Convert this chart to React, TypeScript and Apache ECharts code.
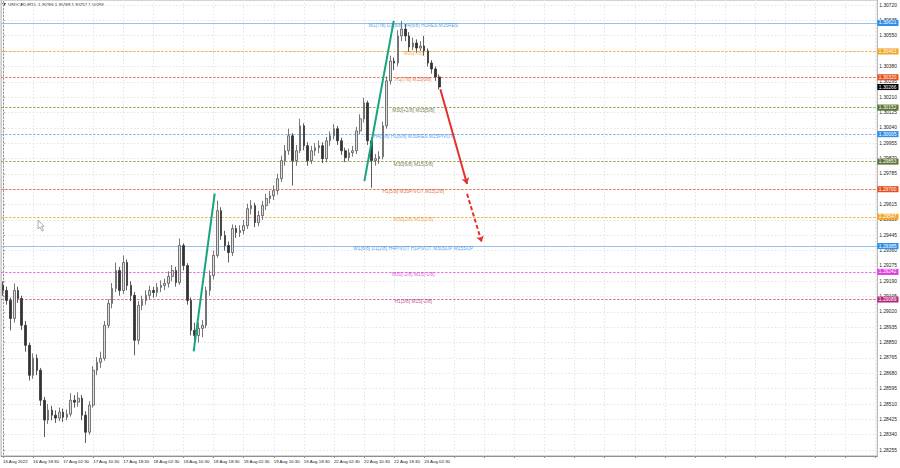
import React, { useEffect, useRef } from 'react';
import * as echarts from 'echarts';

const titleText = 'USDCAD,M15';
const titleValues = [1.30266, 1.30268, 1.30252, 1.30266];

const xTickLabels = [
  '16 Aug 2022', '16 Aug 18:30', '17 Aug 02:30', '17 Aug 10:30', '17 Aug 18:30',
  '18 Aug 02:30', '18 Aug 10:30', '18 Aug 18:30', '19 Aug 02:30', '19 Aug 10:30',
  '19 Aug 18:30', '22 Aug 02:30', '22 Aug 10:30', '22 Aug 18:30', '23 Aug 02:30',
];

const yTicks = [
  1.30720, 1.30635, 1.30550, 1.30465, 1.30380, 1.30295, 1.30210, 1.30125, 1.30040, 1.29955,
  1.29870, 1.29785, 1.29700, 1.29615, 1.29530, 1.29445, 1.29360, 1.29275, 1.29190, 1.29105,
  1.29020, 1.28935, 1.28850, 1.28765, 1.28680, 1.28595, 1.28510, 1.28425, 1.28340, 1.28255,
];

const opens = [
  1.29167, 1.29139, 1.29084, 1.28984, 1.29139, 1.29095, 1.28946, 1.28835, 1.28669, 1.28763,
  1.28697, 1.28531, 1.28421, 1.28476, 1.28448, 1.28432, 1.28465, 1.28437, 1.28454, 1.28531,
  1.28520, 1.28542, 1.28448, 1.28354, 1.28504, 1.28697, 1.28741, 1.28763, 1.28946, 1.29067,
  1.29150, 1.29250, 1.29139, 1.29294, 1.29167, 1.29112, 1.28863, 1.29056, 1.29084, 1.29112,
  1.29139, 1.29128, 1.29156, 1.29167, 1.29178, 1.29217, 1.29250, 1.29183, 1.29388, 1.29277,
  1.29084, 1.28918, 1.28890, 1.28929, 1.28946, 1.29139, 1.29222, 1.29333, 1.29581, 1.29443,
  1.29388, 1.29349, 1.29482, 1.29460, 1.29471, 1.29498, 1.29592, 1.29609, 1.29515, 1.29554,
  1.29609, 1.29648, 1.29664, 1.29692, 1.29758, 1.29858, 1.29913, 1.29996, 1.29858, 1.29913,
  1.30051, 1.29941, 1.29858, 1.29913, 1.29930, 1.29941, 1.29869, 1.29968, 1.29996, 1.30035,
  1.29968, 1.29913, 1.29874, 1.29902, 1.29913, 1.30023, 1.30090, 1.30178, 1.29968, 1.29858,
  1.29869, 1.29880, 1.30051, 1.30300, 1.30410, 1.30399, 1.30549, 1.30587, 1.30549, 1.30488,
  1.30510, 1.30482, 1.30493, 1.30466, 1.30399, 1.30366, 1.30322,
];

const closes = [
  1.29139, 1.29084, 1.28984, 1.29139, 1.29095, 1.28946, 1.28835, 1.28669, 1.28763, 1.28697,
  1.28531, 1.28421, 1.28476, 1.28448, 1.28432, 1.28465, 1.28437, 1.28454, 1.28531, 1.28520,
  1.28542, 1.28448, 1.28354, 1.28504, 1.28697, 1.28741, 1.28763, 1.28946, 1.29067, 1.29150,
  1.29250, 1.29139, 1.29294, 1.29167, 1.29112, 1.28863, 1.29056, 1.29084, 1.29112, 1.29139,
  1.29128, 1.29156, 1.29167, 1.29178, 1.29217, 1.29250, 1.29183, 1.29388, 1.29277, 1.29084,
  1.28918, 1.28890, 1.28929, 1.28946, 1.29139, 1.29222, 1.29333, 1.29581, 1.29443, 1.29388,
  1.29349, 1.29482, 1.29460, 1.29471, 1.29498, 1.29592, 1.29609, 1.29515, 1.29554, 1.29609,
  1.29648, 1.29664, 1.29692, 1.29758, 1.29858, 1.29913, 1.29996, 1.29858, 1.29913, 1.30051,
  1.29941, 1.29858, 1.29913, 1.29930, 1.29941, 1.29869, 1.29968, 1.29996, 1.30035, 1.29968,
  1.29913, 1.29874, 1.29902, 1.29913, 1.30023, 1.30090, 1.30178, 1.29968, 1.29858, 1.29869,
  1.29880, 1.30051, 1.30300, 1.30410, 1.30399, 1.30549, 1.30587, 1.30549, 1.30488, 1.30510,
  1.30482, 1.30493, 1.30466, 1.30399, 1.30366, 1.30322, 1.30266,
];

const lows = [
  1.29110, 1.29060, 1.28918, 1.28960, 1.29070, 1.28920, 1.28800, 1.28640, 1.28650, 1.28670,
  1.28500, 1.28327, 1.28400, 1.28420, 1.28405, 1.28415, 1.28410, 1.28420, 1.28440, 1.28490,
  1.28495, 1.28420, 1.28294, 1.28340, 1.28490, 1.28670, 1.28710, 1.28750, 1.28930, 1.29040,
  1.29130, 1.29110, 1.29120, 1.29140, 1.29080, 1.28780, 1.28840, 1.29030, 1.29060, 1.29090,
  1.29100, 1.29105, 1.29130, 1.29140, 1.29155, 1.29190, 1.29160, 1.29170, 1.29250, 1.29060,
  1.28890, 1.28808, 1.28850, 1.28880, 1.28930, 1.29110, 1.29200, 1.29320, 1.29420, 1.29360,
  1.29294, 1.29330, 1.29430, 1.29435, 1.29450, 1.29480, 1.29560, 1.29490, 1.29495, 1.29530,
  1.29585, 1.29620, 1.29640, 1.29670, 1.29740, 1.29830, 1.29890, 1.29720, 1.29830, 1.29900,
  1.29915, 1.29830, 1.29840, 1.29885, 1.29900, 1.29845, 1.29850, 1.29940, 1.29975, 1.29945,
  1.29890, 1.29850, 1.29855, 1.29880, 1.29895, 1.30005, 1.30070, 1.29945, 1.29708, 1.29830,
  1.29840, 1.29865, 1.30035, 1.30280, 1.30360, 1.30380, 1.30520, 1.30520, 1.30460, 1.30470,
  1.30455, 1.30465, 1.30440, 1.30380, 1.30340, 1.30300, 1.30252,
];

const highs = [
  1.29190, 1.29160, 1.29100, 1.29178, 1.29160, 1.29110, 1.28970, 1.28850, 1.28790, 1.28785,
  1.28710, 1.28550, 1.28510, 1.28500, 1.28475, 1.28490, 1.28485, 1.28480, 1.28570, 1.28560,
  1.28575, 1.28560, 1.28470, 1.28525, 1.28720, 1.28770, 1.28800, 1.28970, 1.29090, 1.29180,
  1.29294, 1.29270, 1.29333, 1.29310, 1.29190, 1.29130, 1.29080, 1.29110, 1.29140, 1.29165,
  1.29160, 1.29180, 1.29195, 1.29205, 1.29245, 1.29280, 1.29270, 1.29427, 1.29400, 1.29290,
  1.29100, 1.28960, 1.28960, 1.28975, 1.29160, 1.29250, 1.29360, 1.29637, 1.29600, 1.29470,
  1.29410, 1.29505, 1.29500, 1.29500, 1.29530, 1.29620, 1.29640, 1.29625, 1.29580, 1.29635,
  1.29675, 1.29690, 1.29720, 1.29785, 1.29885, 1.29945, 1.30035, 1.30010, 1.29945, 1.30090,
  1.30065, 1.29960, 1.29940, 1.29955, 1.29970, 1.29960, 1.29990, 1.30020, 1.30060, 1.30050,
  1.29985, 1.29930, 1.29925, 1.29940, 1.30045, 1.30115, 1.30206, 1.30190, 1.29985, 1.29895,
  1.29910, 1.30075, 1.30325, 1.30440, 1.30430, 1.30580, 1.30631, 1.30615, 1.30570, 1.30540,
  1.30530, 1.30520, 1.30549, 1.30480, 1.30415, 1.30380, 1.30335,
];

const levelValues = [
  1.30621, 1.30463, 1.30320, 1.30152, 1.30005, 1.29853, 1.29700, 1.29547, 1.29385, 1.29242, 1.29089,
];
const levelNames = [
  'W1[7/8] D1[8/8] H4[6/8] H1RES M15RES',
  'M30[7/8]',
  'H1[7/8] M15[6/8]',
  'M30[+2/8] M15[5/8]',
  'H4[5/8] H1[6/8] M30RES M15PIVOT',
  'M30[6/8] M15[3/8]',
  'H1[5/8] M30PIVOT M15[2/8]',
  'M30[2/8] M15[1/8]',
  'W1[6/8] D1[2/8] H4PIVOT H1PIVOT M30SUP M15SUP',
  'M30[-2/8] M15[-1/8]',
  'H1[3/8] M15[-2/8]',
];
const currentPrice = 1.30266;

// trend lines: [bar index, price]
const greenTrends = [
  [[50.7, 1.28802], [56.3, 1.29676]],
  [[96.1, 1.29745], [103.9, 1.30632]],
];
const redTrend = [[116.3, 1.30254], [123.4, 1.29729]];
const redDashedTrend = [[123.4, 1.29674], [127.3, 1.29407]];

// ---- styling / layout (not data) ----
const N_SLOTS = 233;
const Y_MIN = 1.28222;
const Y_MAX = 1.30748;
const LABEL_X = 109.1;
const FONT = '"Liberation Sans", Arial, sans-serif';

const BLUE = { line: '#92c4f0', text: '#2f86e0', badge: '#2f8fe8' };
const ORANGE = { line: '#f7b048', text: '#e8961c', badge: '#f3a628' };
const RED = { line: '#f07a50', text: '#de4a18', badge: '#e5501e' };
const OLIVE = { line: '#9aa860', text: '#4e5e24', badge: '#5b7434' };
const MAGENTA = { line: '#ea70ea', text: '#d22ad2', badge: '#e03ce0' };
const CRIMSON = { line: '#d670b0', text: '#ad2572', badge: '#b32a7e' };
const LEVEL_STYLE: any[] = [
  { ...BLUE, solid: true }, ORANGE, RED, OLIVE, { ...BLUE, line: '#7fb8ee' }, OLIVE, RED, ORANGE,
  { ...BLUE, solid: true }, MAGENTA, CRIMSON,
];

const badgeLabel = (text: string, bg: string) => ({
  show: true,
  position: 'end',
  distance: 0,
  formatter: text,
  backgroundColor: bg,
  color: '#ffffff',
  fontSize: 4.9,
  fontFamily: FONT,
  padding: [0.8, 2, 0.3, 1.5],
});

export default function App() {
  const ref = useRef<HTMLDivElement>(null);

  useEffect(() => {
    if (!ref.current) return;
    const chart = echarts.init(ref.current, undefined, { renderer: 'svg' });

    const categories = Array.from({ length: N_SLOTS }, (_, i) => String(i));
    const candleData = closes.map((c, i) => [opens[i], c, lows[i], highs[i]]);

    const gridX: number[] = [];
    for (let i = 0; i < N_SLOTS; i += 8) gridX.push(i);

    // one series per level: its text label + its price badge
    const levelSeries = levelValues.map((v, i) => ({
      type: 'scatter',
      name: levelNames[i],
      xAxisIndex: 1,
      yAxisIndex: 0,
      z: 10,
      symbolSize: 0.1,
      itemStyle: { color: 'transparent' },
      silent: true,
      data: [
        {
          value: [LABEL_X, v],
          label: {
            show: true,
            position: 'inside',
            offset: [0, 2.5],
            formatter: levelNames[i],
            color: LEVEL_STYLE[i].text,
            fontSize: 4.9,
            fontFamily: FONT,
          },
        },
      ],
      markLine: {
        silent: true,
        precision: 6,
        symbol: ['none', 'none'],
        z: 2,
        lineStyle: { color: 'rgba(255,255,255,0)', width: 1 },
        label: badgeLabel(v.toFixed(5), LEVEL_STYLE[i].badge),
        data: [{ yAxis: v }],
      },
    }));

    // level lines drawn as a lines series across the whole plot
    const levelLineData = levelValues.map((v, i) => ({
      coords: [[-0.5, v], [N_SLOTS - 0.5, v]],
      lineStyle: {
        color: LEVEL_STYLE[i].line,
        type: LEVEL_STYLE[i].solid ? 'solid' : [2.5, 1.5],
        width: LEVEL_STYLE[i].solid ? 1 : 1.2,
        opacity: 1,
      },
    }));

    const option: any = {
      animation: false,
      backgroundColor: '#ffffff',
      grid: {
        left: 0,
        right: 22,
        top: -1,
        bottom: 12,
        show: true,
        borderColor: '#a8a8a8',
        borderWidth: 1,
        backgroundColor: 'transparent',
      },
      xAxis: [
        {
          type: 'category',
          data: categories,
          boundaryGap: true,
          axisLine: { show: true, lineStyle: { color: '#909090', width: 1 } },
          axisTick: {
            show: true,
            alignWithLabel: true,
            interval: (i: number) => i % 8 === 0,
            length: 2,
            lineStyle: { color: '#909090' },
          },
          axisLabel: {
            interval: (i: number) => i % 8 === 0 && i / 8 < xTickLabels.length,
            formatter: (_v: string, i: number) => xTickLabels[i / 8] ?? '',
            align: 'left',
            fontSize: 4.4,
            color: '#222',
            margin: 3,
            fontFamily: FONT,
          },
          splitLine: { show: false },
        },
        {
          type: 'value',
          min: -0.5,
          max: N_SLOTS - 0.5,
          show: false,
        },
      ],
      yAxis: {
        type: 'value',
        position: 'right',
        min: Y_MIN,
        max: Y_MAX,
        axisLine: { show: true, lineStyle: { color: '#909090', width: 1 } },
        axisTick: { show: true, length: 2, customValues: yTicks, lineStyle: { color: '#909090' } },
        axisLabel: {
          customValues: yTicks,
          formatter: (v: number) => v.toFixed(5),
          fontSize: 4.9,
          color: '#222',
          margin: 2,
          padding: [0, 0, 3, 0],
          fontFamily: FONT,
        },
        splitLine: { show: false },
      },
      series: [
        // grid lines host
        {
          type: 'scatter',
          xAxisIndex: 1,
          yAxisIndex: 0,
          z: 1,
          symbolSize: 0.1,
          itemStyle: { color: 'transparent' },
          silent: true,
          data: [[LABEL_X, levelValues[0]]],
          markLine: {
            silent: true,
            precision: 6,
            symbol: ['none', 'none'],
            z: 1,
            label: { show: false },
            lineStyle: { color: '#e4e4e4', type: [1.5, 2], width: 1 },
            data: [
              ...gridX.map((x) => ({ xAxis: x })),
              ...yTicks.map((y) => ({ yAxis: y })),
            ],
          },
        },
        {
          type: 'lines',
          coordinateSystem: 'cartesian2d',
          xAxisIndex: 1,
          yAxisIndex: 0,
          z: 2,
          silent: true,
          symbol: ['none', 'none'],
          lineStyle: { width: 1, opacity: 1, curveness: 0 },
          data: levelLineData,
        },
        ...levelSeries,
        // current price badge
        {
          type: 'scatter',
          xAxisIndex: 1,
          yAxisIndex: 0,
          z: 2,
          symbolSize: 0.1,
          itemStyle: { color: 'transparent' },
          silent: true,
          data: [[LABEL_X, currentPrice]],
          markLine: {
            silent: true,
            precision: 6,
            symbol: ['none', 'none'],
            z: 2,
            lineStyle: { color: 'rgba(255,255,255,0)', width: 1 },
            label: badgeLabel(currentPrice.toFixed(5), '#000000'),
            data: [{ yAxis: currentPrice }],
          },
        },
        {
          type: 'candlestick',
          xAxisIndex: 0,
          yAxisIndex: 0,
          data: candleData,
          barWidth: 2.1,
          z: 3,
          itemStyle: {
            color: '#dedede',
            color0: '#333333',
            borderColor: '#555555',
            borderColor0: '#333333',
            borderWidth: 0.8,
          },
        },
        {
          type: 'lines',
          coordinateSystem: 'cartesian2d',
          xAxisIndex: 1,
          yAxisIndex: 0,
          z: 5,
          symbol: ['none', 'none'],
          lineStyle: { color: '#16a47f', width: 2, opacity: 1, curveness: 0 },
          data: greenTrends.map((c) => ({ coords: c })),
        },
        {
          type: 'lines',
          coordinateSystem: 'cartesian2d',
          xAxisIndex: 1,
          yAxisIndex: 0,
          z: 5,
          symbol: ['none', 'arrow'],
          symbolSize: 6,
          lineStyle: { color: '#e4312b', width: 2, opacity: 1, curveness: 0 },
          data: [{ coords: redTrend }],
        },
        {
          type: 'lines',
          coordinateSystem: 'cartesian2d',
          xAxisIndex: 1,
          yAxisIndex: 0,
          z: 5,
          symbol: ['none', 'arrow'],
          symbolSize: 6,
          lineStyle: { color: '#e4312b', width: 2, opacity: 1, curveness: 0, type: [4, 2.5] },
          data: [{ coords: redDashedTrend }],
        },
      ],
      graphic: [
        {
          type: 'polygon',
          shape: { points: [[2, 3], [6, 3], [4, 6]] },
          style: { fill: '#333' },
        },
        {
          type: 'text',
          left: 8,
          top: 2.4,
          style: {
            text: `${titleText}  ${titleValues.map((v) => v.toFixed(5)).join(' ')}`,
            fontSize: 4.3,
            fill: '#111',
            fontFamily: FONT,
          },
        },
        {
          type: 'polygon',
          shape: {
            points: [[38, 220], [38, 229], [40, 227], [42, 231], [43.5, 230.3], [41.5, 226.5], [44, 226.3]],
          },
          style: { fill: '#ffffff', stroke: '#8a8a8a', lineWidth: 0.7 },
        },
      ],
    };

    chart.setOption(option);
    return () => chart.dispose();
  }, []);

  return (
    <div
      ref={ref}
      style={{ position: 'fixed', left: 0, top: 0, width: 900, height: 468, background: '#fff' }}
    />
  );
}
